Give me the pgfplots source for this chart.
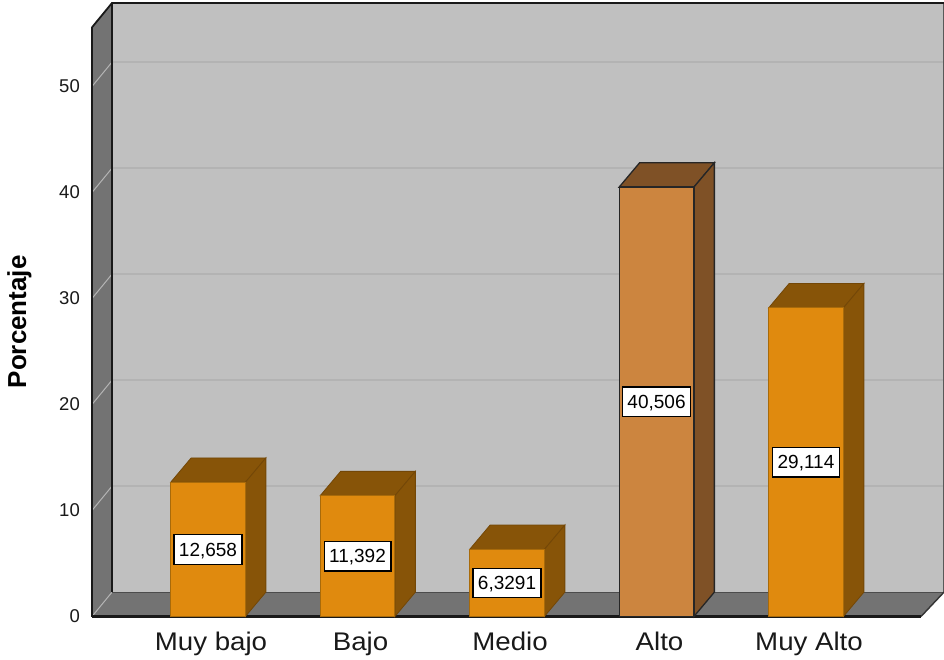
\documentclass[border=0pt]{standalone}
\usepackage{fontspec}
\setmainfont{Liberation Sans}
\usepackage{pgfplots}
\usepackage{pgfplotstable}
\pgfplotsset{compat=1.18}
\definecolor{barO}{HTML}{E08A0E}
\definecolor{barOd}{HTML}{875408}
\definecolor{barOe}{HTML}{A86A0A}
\definecolor{barA}{HTML}{CC853F}
\definecolor{barAd}{HTML}{7F5126}
\definecolor{wall}{HTML}{C0C0C0}
\definecolor{sidewall}{HTML}{737373}
\definecolor{gridb}{HTML}{B3B3B3}
\definecolor{gridl}{HTML}{B4B4B4}
\pgfplotstableread{
x lab v half label
0 a 12.658 6.329 12,658
1 b 11.392 5.696 11,392
2 c 6.3291 3.165 6,3291
3 d 40.506 20.253 40,506
4 e 29.114 14.557 29,114
}\datatab
\begin{document}
\begin{tikzpicture}
\useasboundingbox (-92pt,-42.5pt) rectangle (852pt,616.5pt);
\begin{axis}[
  scale only axis, width=852pt, height=616.5pt,
  xmin=-0.776, xmax=4.923, ymin=0, ymax=58.16,
  clip=false,
  axis line style={draw=none},
  major tick length=0pt,
  tick style={draw=none},
  xtick pos=lower, ytick pos=left,
  xtick={0,1,2,3,4},
  xticklabels={Muy bajo,Bajo,Medio,Alto,Muy Alto},
  ytick={0,10,20,30,40,50},
  /pgf/number format/assume math mode=true,
  yticklabel style={font=\fontsize{18.5}{20}\selectfont, color=black!90, inner sep=0pt, xshift=-12pt},
  xticklabel style={font=\fontsize{25.5}{28}\selectfont, color=black!90, inner sep=0pt, text height=18pt, text depth=5pt, yshift=-16pt, xshift=3pt, xscale=1.085},
  every axis y label/.style={at={(axis description cs:-0.0851,0.478)}, rotate=90, anchor=center, font=\fontsize{26}{28}\bfseries\selectfont},
  ylabel={Porcentaje},
  every node near coord/.style={anchor=center},
]
% walls
\addplot[fill=wall, draw=none] coordinates {(-0.642,2.3) (4.923,2.3) (4.923,57.88) (-0.642,57.88)} -- cycle;
\addplot[fill=sidewall, draw=none] coordinates {(-0.776,0) (-0.642,2.3) (-0.642,57.88) (-0.776,55.58)} -- cycle;
\addplot[fill=sidewall, draw=none] coordinates {(-0.776,0) (4.769,0) (4.923,2.3) (-0.642,2.3)} -- cycle;
% grid
\foreach \v/\w in {10/12.3,20/22.3,30/32.3,40/42.3,50/52.3}{
  \edef\temp{\noexpand\addplot[gridb, line width=1.4pt] coordinates {(-0.642,\w) (4.923,\w)};
    \noexpand\addplot[gridl, line width=1pt] coordinates {(-0.776,\v) (-0.642,\w)};}
  \temp
}
\addplot[gridl, line width=1pt] coordinates {(-0.776,0) (-0.642,2.3)};
% edges
\addplot[black!70, line width=1.2pt] coordinates {(-0.642,2.3) (4.923,2.3)};
\addplot[black!65, line width=1.6pt] coordinates {(4.923,2.3) (4.923,57.88)};
\addplot[black!90, line width=1.8pt] coordinates {(-0.776,55.58) (-0.776,0)};
\addplot[black!90, line width=1.8pt] coordinates {(-0.642,2.3) (-0.642,57.88)};
\addplot[black!90, line width=1.8pt] coordinates {(-0.776,55.58) (-0.642,57.88) (4.923,57.88)};
\addplot[black!80, line width=1.4pt] coordinates {(4.769,0) (4.923,2.3)};
\addplot[black!90, line width=2.2pt] coordinates {(-0.776,0) (4.769,0)};
% bar 1
\addplot[fill=barOd, draw=barOd!85!black, line width=.8pt] coordinates {(-0.25,12.658) (0.25,12.658) (0.387,14.958) (-0.113,14.958)} -- cycle;
\addplot[fill=barOd, draw=barOd!85!black, line width=.8pt] coordinates {(0.25,0) (0.387,2.3) (0.387,14.958) (0.25,12.658)} -- cycle;
% bar 2
\addplot[fill=barOd, draw=barOd!85!black, line width=.8pt] coordinates {(0.75,11.392) (1.25,11.392) (1.387,13.692) (0.887,13.692)} -- cycle;
\addplot[fill=barOd, draw=barOd!85!black, line width=.8pt] coordinates {(1.25,0) (1.387,2.3) (1.387,13.692) (1.25,11.392)} -- cycle;
% bar 3
\addplot[fill=barOd, draw=barOd!85!black, line width=.8pt] coordinates {(1.75,6.3291) (2.25,6.3291) (2.387,8.629) (1.887,8.629)} -- cycle;
\addplot[fill=barOd, draw=barOd!85!black, line width=.8pt] coordinates {(2.25,0) (2.387,2.3) (2.387,8.629) (2.25,6.3291)} -- cycle;
% bar 4
\addplot[fill=barAd, draw=black!85, line width=1.3pt] coordinates {(2.75,40.506) (3.25,40.506) (3.387,42.806) (2.887,42.806)} -- cycle;
\addplot[fill=barAd, draw=black!85, line width=1.3pt] coordinates {(3.25,0) (3.387,2.3) (3.387,42.806) (3.25,40.506)} -- cycle;
% bar 5
\addplot[fill=barOd, draw=barOd!85!black, line width=.8pt] coordinates {(3.75,29.114) (4.25,29.114) (4.387,31.414) (3.887,31.414)} -- cycle;
\addplot[fill=barOd, draw=barOd!85!black, line width=.8pt] coordinates {(4.25,0) (4.387,2.3) (4.387,31.414) (4.25,29.114)} -- cycle;
% front faces
\addplot[ybar, bar width=74.7pt, fill=barO, draw=barOe, line width=.8pt] coordinates {(0,12.658) (1,11.392) (2,6.3291) (4,29.114)};
\addplot[ybar, bar width=74.7pt, fill=barA, draw=black!85, line width=1.3pt] coordinates {(3,40.506)};
% value labels
\addplot[draw=none, mark=none,
  point meta=explicit symbolic,
  nodes near coords,
  nodes near coords style={anchor=center, fill=white, draw=black, line width=1.3pt, inner xsep=5pt, inner ysep=8pt, text height=13.5pt, text depth=0pt, font=\fontsize{19}{20}\selectfont, text=black},
] table[x=x, y=half, meta=label] {\datatab};
\end{axis}
\end{tikzpicture}
\end{document}
